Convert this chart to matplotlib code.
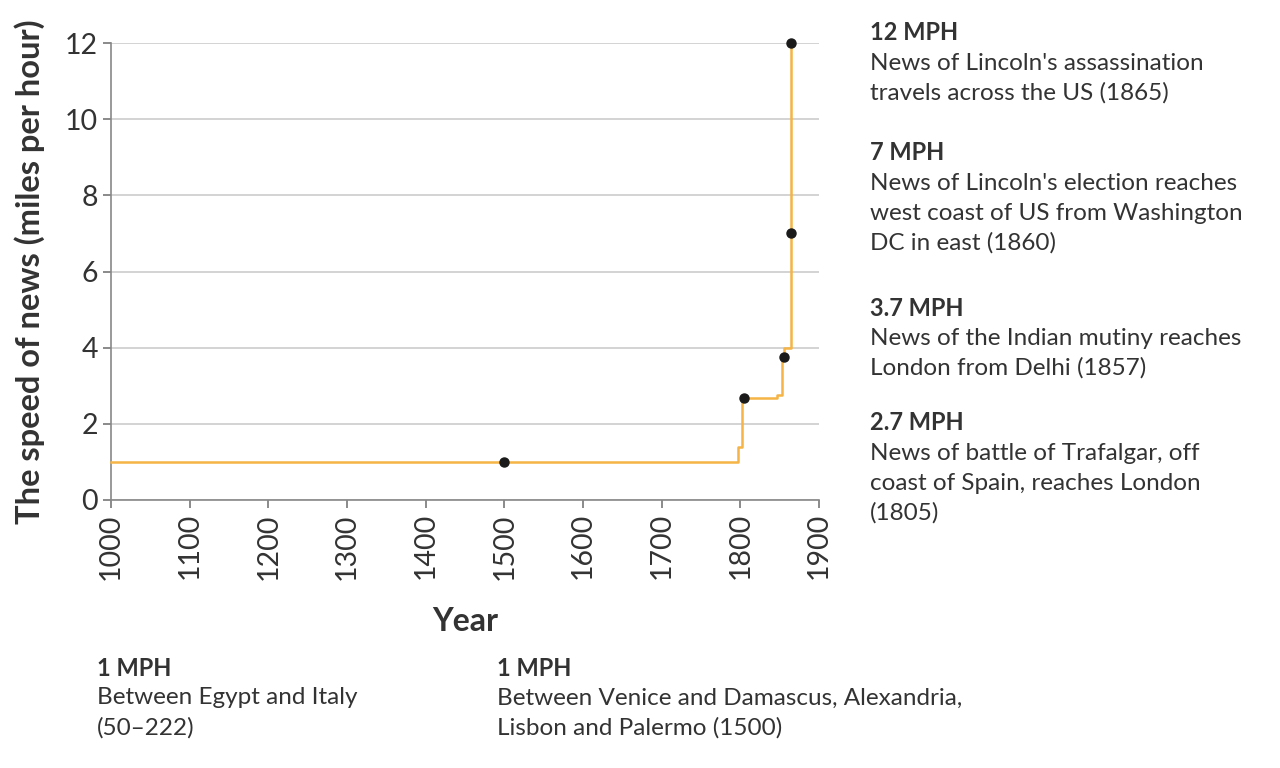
import matplotlib
matplotlib.use("Agg")
import matplotlib.pyplot as plt

# step line of the speed of news
step_years = [1000, 1797, 1802, 1847, 1853, 1855, 1864]
step_speed = [1.0, 1.4, 2.67, 2.76, 3.8, 4.0, 12.0]

# highlighted events
event_years = [1500, 1805, 1855, 1864, 1864]
event_speed = [1.0, 2.67, 3.76, 7.0, 12.0]

x_ticks = list(range(1000, 1901, 100))
y_ticks = list(range(0, 13, 2))

right_notes = [
    ("12 MPH", ["News of Lincoln's assassination", "travels across the US (1865)"], 33),
    ("7 MPH", ["News of Lincoln's election reaches", "west coast of US from Washington",
               "DC in east (1860)"], 153),
    ("3.7 MPH", ["News of the Indian mutiny reaches", "London from Delhi (1857)"], 308),
    ("2.7 MPH", ["News of battle of Trafalgar, off", "coast of Spain, reaches London",
                 "(1805)"], 423),
]
bottom_notes = [
    ("1 MPH", ["Between Egypt and Italy", "(50\u2013222)"], 97),
    ("1 MPH", ["Between Venice and Damascus, Alexandria,", "Lisbon and Palermo (1500)"], 497),
]

plt.rcParams['font.family'] = ['Lato', 'DejaVu Sans']
text_col = '#333333'
W, H = 1280, 768

fig = plt.figure(figsize=(12.8, 7.68), dpi=100)
ax = fig.add_axes([111 / W, 1 - 500 / H, (819 - 111) / W, (500 - 43) / H])

ax.plot(step_years, step_speed, drawstyle='steps-post', color='#f5b445', lw=1.8, zorder=3,
        clip_on=False)
ax.plot(event_years, event_speed, 'o', color='#1a1a1a', ms=6.5, zorder=4, clip_on=False)

ax.set_xlim(1000, 1900)
ax.set_ylim(0, 12)
ax.set_xticks(x_ticks)
ax.set_yticks(y_ticks)
ax.set_xticklabels([str(t) for t in x_ticks], rotation=90)
ax.tick_params(colors='#777777', labelcolor=text_col, labelsize=20.5, length=6, width=1.2)
ax.grid(axis='y', color='#cccccc', lw=1.2)
ax.set_axisbelow(True)
for s in ['top', 'right']:
    ax.spines[s].set_visible(False)
for s in ['left', 'bottom']:
    ax.spines[s].set_color('#888888')
    ax.spines[s].set_linewidth(1.2)

ax.set_xlabel('Year', fontsize=23, fontweight='bold', color=text_col, labelpad=20)
ax.set_ylabel('The speed of news (miles per hour)', fontsize=23.5, fontweight='bold',
              color=text_col, labelpad=14)


def note(x, y, head, lines):
    fig.text(x / W, 1 - y / H, head, fontsize=17, fontweight='bold', color=text_col,
             va='center')
    for i, line in enumerate(lines):
        fig.text(x / W, 1 - (y + 30 * (i + 1)) / H, line, fontsize=17.5, color=text_col,
                 va='center')


for head, lines, y in right_notes:
    note(870, y, head, lines)
for head, lines, x in bottom_notes:
    note(x, 668, head, lines)

fig.savefig('out.png', dpi=100)
